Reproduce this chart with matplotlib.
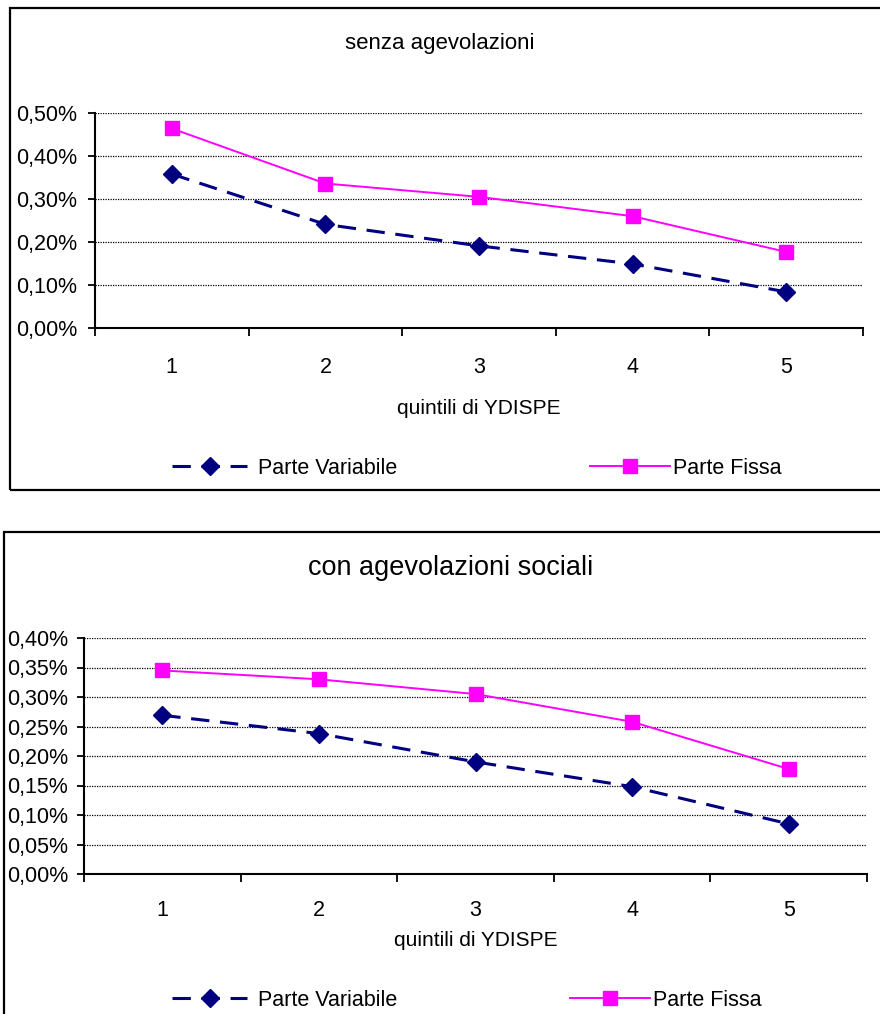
import matplotlib
matplotlib.use('Agg')
import matplotlib.pyplot as plt
from matplotlib.lines import Line2D
from matplotlib.patches import Rectangle
from matplotlib.ticker import FuncFormatter

plt.rcParams['font.family'] = ['Liberation Sans', 'DejaVu Sans']

quintili = [1, 2, 3, 4, 5]

# quote in percentuale del reddito
senza_variabile = [0.358, 0.241, 0.191, 0.149, 0.084]
senza_fissa = [0.464, 0.336, 0.305, 0.260, 0.177]

con_variabile = [0.269, 0.238, 0.190, 0.148, 0.085]
con_fissa = [0.345, 0.330, 0.305, 0.258, 0.178]

W, H = 880, 1014
fig = plt.figure(figsize=(W / 100, H / 100), dpi=100)


def px_box(x0, y0, x1, y1):
    # pixel box (top-left origin) -> figure fraction [l, b, w, h]
    return [x0 / W, 1 - y1 / H, (x1 - x0) / W, (y1 - y0) / H]


def pct(v, pos):
    return ('%.2f' % v).replace('.', ',') + '%'


def pannello(box, titolo, title_xy, title_fs, var, fissa, ymax, ystep,
             xpad, ypad, xlabel_y, legend_y, fissa_x, frame):
    # cornice del grafico
    fx0, fy0, fx1, fy1 = frame
    fig.patches.append(Rectangle((fx0 / W, 1 - fy1 / H), (fx1 - fx0) / W, (fy1 - fy0) / H,
                                 transform=fig.transFigure, fill=False,
                                 edgecolor='black', linewidth=1.6))

    ax = fig.add_axes(px_box(*box))
    lv, = ax.plot(quintili, var, color='#000080', linewidth=2.2, dashes=(6, 3.5),
                  marker='D', markersize=9.5, label='Parte Variabile')
    lf, = ax.plot(quintili, fissa, color='#FF00FF', linewidth=1.4,
                  marker='s', markersize=10, label='Parte Fissa')

    ax.set_xlim(0.5, 5.5)
    ax.set_ylim(0, ymax)
    n = int(round(ymax / ystep))
    yt = [i * ystep for i in range(n + 1)]
    ax.set_yticks(yt)
    ax.yaxis.set_major_formatter(FuncFormatter(pct))
    for y in yt[1:]:
        ax.axhline(y, color='black', linewidth=0.9, linestyle=(0, (1, 1)), zorder=0)

    ax.set_xticks([0.5, 1.5, 2.5, 3.5, 4.5, 5.5])
    ax.set_xticklabels([])
    ax.set_xticks(quintili, minor=True)
    ax.set_xticklabels([str(q) for q in quintili], minor=True)
    ax.tick_params(axis='x', which='major', direction='out', length=6, width=1.3)
    ax.tick_params(axis='x', which='minor', length=0, pad=xpad, labelsize=15.5)
    ax.tick_params(axis='y', direction='out', length=5, width=1.3, pad=ypad, labelsize=15.5)

    for s in ['top', 'right']:
        ax.spines[s].set_visible(False)
    for s in ['left', 'bottom']:
        ax.spines[s].set_linewidth(1.5)

    fig.text(title_xy[0] / W, 1 - title_xy[1] / H, titolo, ha='center', va='center',
             fontsize=title_fs)
    cx = (box[0] + box[2]) / 2
    fig.text(cx / W, 1 - xlabel_y / H, 'quintili di YDISPE', ha='center', va='center',
             fontsize=15)

    leg1 = ax.legend(handles=[lv], loc='center left', frameon=False,
                     bbox_to_anchor=(172 / W, 1 - legend_y / H),
                     bbox_transform=fig.transFigure, borderpad=0, borderaxespad=0,
                     handlelength=3.5, handletextpad=0.5, fontsize=15.5, numpoints=1)
    ax.add_artist(leg1)
    ax.legend(handles=[lf], loc='center left', frameon=False,
              bbox_to_anchor=(fissa_x / W, 1 - legend_y / H),
              bbox_transform=fig.transFigure, borderpad=0, borderaxespad=0,
              handlelength=3.7, handletextpad=0.15, fontsize=15.5, numpoints=1)
    return ax


pannello((95, 113, 863, 328), 'senza agevolazioni', (440, 43), 16,
         senza_variabile, senza_fissa, 0.5, 0.1,
         xpad=21, ypad=8, xlabel_y=408, legend_y=468, fissa_x=590,
         frame=(10, 8, 885, 490))

pannello((84, 638, 867, 874), 'con agevolazioni sociali', (451, 568), 19.5,
         con_variabile, con_fissa, 0.4, 0.05,
         xpad=19, ypad=6.5, xlabel_y=940, legend_y=1000, fissa_x=570,
         frame=(4, 532, 885, 1020))

fig.savefig('out.png', dpi=100)
